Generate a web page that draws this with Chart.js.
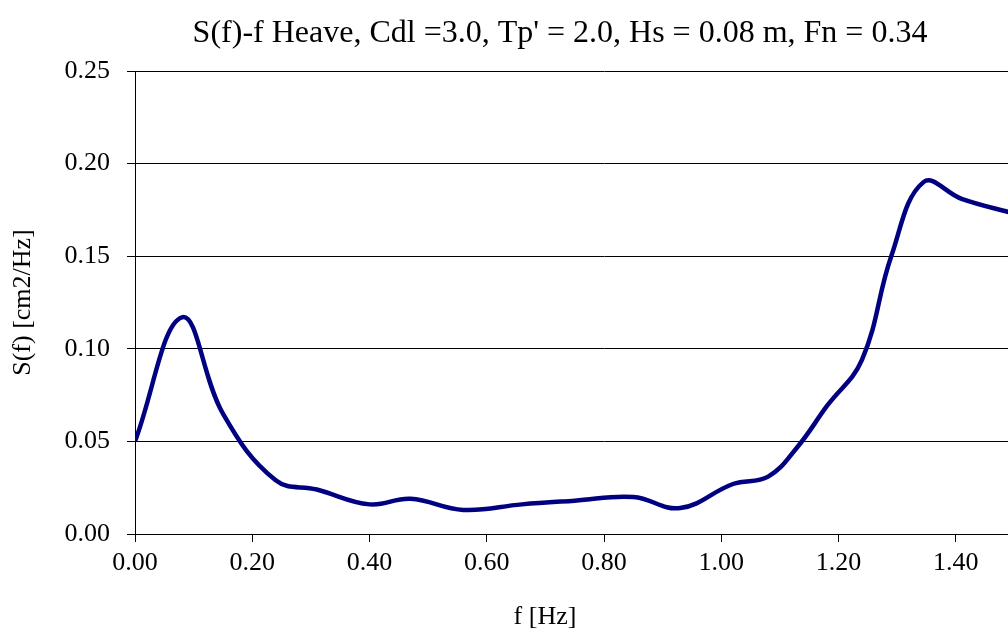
<!DOCTYPE html>
<html>
<head>
<meta charset="utf-8">
<script src="https://cdn.jsdelivr.net/npm/chart.js@4/dist/chart.umd.min.js"></script>
<style>
  html, body { margin: 0; padding: 0; background: #fff; overflow: hidden; }
  #wrap { width: 1008px; height: 633px; overflow: hidden; }
</style>
</head>
<body>
<div id="wrap">
  <canvas id="spectrumChart" width="1120" height="633"></canvas>
</div>
<script>
// frequency [Hz] and heave spectral density S(f) [cm2/Hz]
const freqs = [0.00, 0.08, 0.15, 0.24, 0.31, 0.40, 0.47, 0.56, 0.66, 0.75,
               0.85, 0.93, 1.02, 1.08, 1.13, 1.18, 1.24, 1.29, 1.345, 1.41, 1.50];
const heave = [0.050, 0.117, 0.065, 0.029, 0.024, 0.016, 0.019, 0.013, 0.016, 0.018,
               0.020, 0.014, 0.027, 0.031, 0.047, 0.069, 0.094, 0.150, 0.190, 0.181, 0.173];

const chartTitle = "S(f)-f Heave, Cdl =3.0, Tp' = 2.0, Hs = 0.08 m, Fn = 0.34";
const xTitle = 'f [Hz]';
const yTitle = 'S(f) [cm2/Hz]';

const serif = "'Liberation Serif', 'Times New Roman', serif";

// heading and x caption are placed by hand: both sit off the plot centre
const captions = {
    id: 'captions',
    afterDraw(chart) {
        const { ctx, chartArea } = chart;
        ctx.save();
        ctx.fillStyle = '#000';
        ctx.textAlign = 'center';
        ctx.textBaseline = 'middle';
        ctx.font = '32px ' + serif;
        ctx.fillText(chartTitle, 560, 34);
        ctx.font = '26px ' + serif;
        ctx.fillText(xTitle, chartArea.left + 410, 617);
        ctx.restore();
    }
};

new Chart(document.getElementById('spectrumChart'), {
    type: 'line',
    data: {
        datasets: [{
            data: freqs.map((f, i) => ({ x: f, y: heave[i] })),
            borderColor: '#000080',
            borderWidth: 4.5,
            pointRadius: 0,
            tension: 0.4,
            fill: false
        }]
    },
    options: {
        responsive: false,
        animation: false,
        layout: { padding: { left: 0, right: 47, top: 71, bottom: 0 } },
        plugins: {
            legend: { display: false },
            tooltip: { enabled: false },
            title: { display: false }
        },
        scales: {
            x: {
                type: 'linear',
                min: 0,
                max: 1.6,
                afterFit: s => { s.height = 99; },
                grid: { drawOnChartArea: false, drawTicks: true, tickLength: 8, color: '#000' },
                border: { display: true, color: '#000', width: 1 },
                ticks: {
                    stepSize: 0.2,
                    padding: 6,
                    color: '#000',
                    font: { family: serif, size: 26 },
                    maxRotation: 0,
                    callback: v => v.toFixed(2)
                }
            },
            y: {
                min: 0,
                max: 0.25,
                afterFit: s => { s.width = 135; },
                grid: { color: '#000', lineWidth: 1, tickLength: 8 },
                border: { display: true, color: '#000', width: 1 },
                ticks: {
                    stepSize: 0.05,
                    padding: 17,
                    color: '#000',
                    font: { family: serif, size: 26 },
                    callback: v => v.toFixed(2)
                },
                title: {
                    display: true,
                    text: yTitle,
                    color: '#000',
                    font: { family: serif, size: 26 },
                    padding: { top: 8, bottom: 0 }
                }
            }
        }
    },
    plugins: [captions]
});
</script>
</body>
</html>
